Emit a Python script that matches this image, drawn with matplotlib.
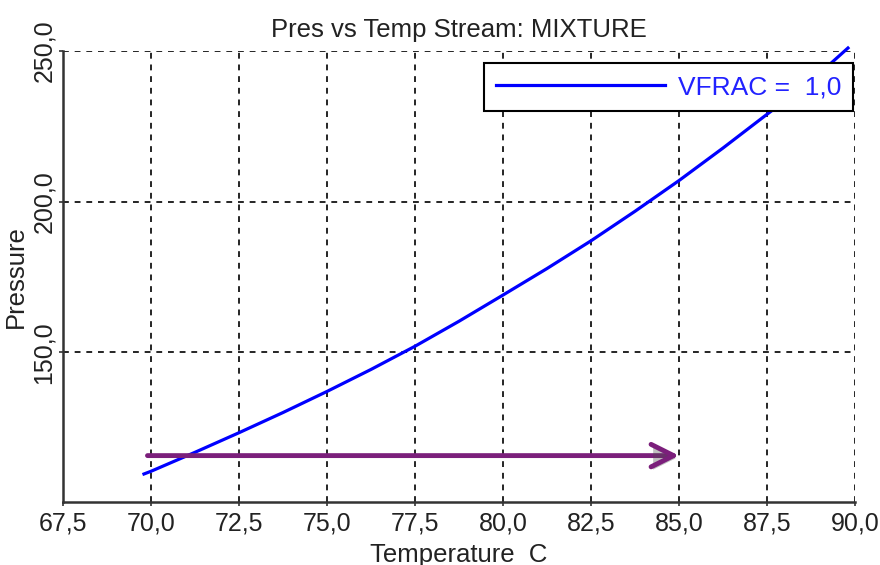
import numpy as np, matplotlib
matplotlib.use('Agg'); import matplotlib.pyplot as plt
from matplotlib.ticker import FuncFormatter
import matplotlib.patheffects as pe
plt.rcParams.update({'font.family':['Liberation Sans','DejaVu Sans'],'font.size':18})

temp = [69.8, 70.0, 71.25, 72.5, 73.75, 75.0, 76.25, 77.5, 78.75, 80.0, 81.25, 82.5, 83.75, 85.0, 86.25, 87.5, 88.75, 89.8]
pres = [109.6, 110.5, 116.8, 123.3, 130.0, 137.0, 144.3, 152.0, 160.3, 169.0, 177.8, 187.0, 196.8, 207.0, 217.8, 229.0, 240.0, 251.0]
arrow_x = [69.9, 85.0]
arrow_y = [115.7, 115.7]
xticks = [67.5, 70.0, 72.5, 75.0, 77.5, 80.0, 82.5, 85.0, 87.5, 90.0]
yticks = [150, 200, 250]

fig = plt.figure(figsize=(8.8, 5.65), dpi=100)
ax = fig.add_axes([0.0716, 0.1115, 0.90, 0.7982])
ax.plot(temp, pres, color='#0000ff', lw=2.3, label='VFRAC =  1,0', clip_on=False)
ax.annotate('', xy=(arrow_x[1], arrow_y[1]), xytext=(arrow_x[0], arrow_y[0]),
            arrowprops=dict(arrowstyle='->,head_length=0.9,head_width=0.45', lw=3.5, color='#7b1f7b',
                            shrinkA=0, shrinkB=0,
                            path_effects=[pe.SimplePatchShadow(offset=(1.5, -2), alpha=0.35), pe.Normal()]))
ax.set_xlim(67.5, 90.0); ax.set_ylim(100.3, 250)
ax.set_xticks(xticks); ax.set_yticks(yticks)
fmt = FuncFormatter(lambda v, _: f'{v:.1f}'.replace('.', ','))
ax.xaxis.set_major_formatter(fmt); ax.yaxis.set_major_formatter(fmt)
ax.grid(True, color='black', ls=(0, (3.5, 3.5)), lw=1.2)
for s in ['top', 'right']:
    ax.spines[s].set_visible(False)
for s in ['left', 'bottom']:
    ax.spines[s].set_color('#333333'); ax.spines[s].set_linewidth(1.8)
ax.tick_params(length=3, width=1.2, color='#333333', labelcolor='#222222', pad=4)
ax.tick_params(axis='y', pad=2)
for lab in ax.get_yticklabels():
    lab.set_rotation(90); lab.set_va('center')
ax.set_title('Pres vs Temp Stream: MIXTURE', color='#222222', pad=10, fontsize=18.5)
ax.set_xlabel('Temperature  C', color='#222222', labelpad=5, fontsize=18.5)
ax.set_ylabel('Pressure', color='#222222', labelpad=3, fontsize=18.5)
leg = ax.legend(loc='upper right', bbox_to_anchor=(0.9975, 0.973), borderaxespad=0, frameon=True, fancybox=False,
                handlelength=6.4, handletextpad=0.5, borderpad=0.45, labelcolor='#2222ff', fontsize=19)
leg.get_frame().set_edgecolor('black'); leg.get_frame().set_linewidth(1.5); leg.get_frame().set_alpha(1)
fig.savefig('out.png', dpi=100)
